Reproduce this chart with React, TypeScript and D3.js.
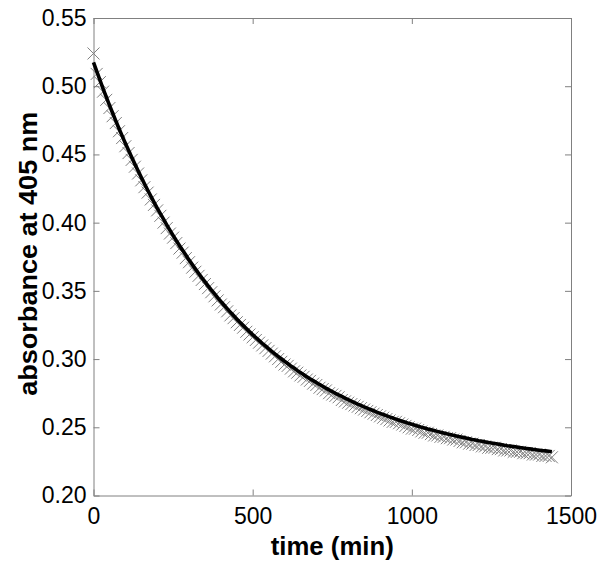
import { Component } from 'react';
import * as d3 from 'd3';

// sampling times (min)
const time_min = [
    0, 10, 20, 30, 40, 50, 60, 70, 80, 90, 100, 110, 120, 130, 140, 150, 160, 170, 180, 190,
    200, 210, 220, 230, 240, 250, 260, 270, 280, 290, 300, 310, 320, 330, 340, 350, 360, 370, 380, 390,
    400, 410, 420, 430, 440, 450, 460, 470, 480, 490, 500, 510, 520, 530, 540, 550, 560, 570, 580, 590,
    600, 610, 620, 630, 640, 650, 660, 670, 680, 690, 700, 710, 720, 730, 740, 750, 760, 770, 780, 790,
    800, 810, 820, 830, 840, 850, 860, 870, 880, 890, 900, 910, 920, 930, 940, 950, 960, 970, 980, 990,
    1000, 1010, 1020, 1030, 1040, 1050, 1060, 1070, 1080, 1090, 1100, 1110, 1120, 1130, 1140, 1150, 1160, 1170, 1180, 1190,
    1200, 1210, 1220, 1230, 1240, 1250, 1260, 1270, 1280, 1290, 1300, 1310, 1320, 1330, 1340, 1350, 1360, 1370, 1380, 1390,
    1400, 1410, 1420, 1430, 1440
];

// measured absorbance (x markers)
const absorbance = [
    0.524, 0.509, 0.503, 0.496, 0.490, 0.484, 0.478, 0.473, 0.467, 0.462, 0.456, 0.451, 0.446, 0.441, 0.436, 0.431, 0.426, 0.422, 0.417, 0.413,
    0.409, 0.405, 0.400, 0.396, 0.392, 0.389, 0.385, 0.381, 0.378, 0.374, 0.371, 0.367, 0.364, 0.361, 0.358, 0.355, 0.352, 0.349, 0.346, 0.343,
    0.340, 0.338, 0.335, 0.332, 0.330, 0.327, 0.325, 0.323, 0.320, 0.318, 0.316, 0.314, 0.312, 0.310, 0.308, 0.306, 0.304, 0.302, 0.300, 0.298,
    0.296, 0.295, 0.293, 0.291, 0.290, 0.288, 0.287, 0.285, 0.284, 0.282, 0.281, 0.279, 0.278, 0.277, 0.275, 0.274, 0.273, 0.272, 0.270, 0.269,
    0.268, 0.267, 0.266, 0.265, 0.264, 0.263, 0.262, 0.261, 0.260, 0.259, 0.258, 0.257, 0.256, 0.255, 0.254, 0.254, 0.253, 0.252, 0.251, 0.250,
    0.249, 0.249, 0.248, 0.247, 0.246, 0.246, 0.245, 0.244, 0.244, 0.243, 0.243, 0.242, 0.242, 0.241, 0.241, 0.240, 0.239, 0.239, 0.238, 0.238,
    0.237, 0.237, 0.236, 0.236, 0.235, 0.235, 0.235, 0.234, 0.234, 0.233, 0.233, 0.233, 0.232, 0.232, 0.232, 0.231, 0.231, 0.231, 0.230, 0.230,
    0.230, 0.229, 0.229, 0.229, 0.228
];

// fitted curve (thick black line)
const fit_absorbance = [
    0.5175, 0.5110, 0.5046, 0.4983, 0.4922, 0.4862, 0.4804, 0.4746, 0.4690, 0.4636, 0.4582, 0.4530, 0.4479, 0.4429, 0.4380, 0.4332, 0.4285, 0.4239, 0.4194, 0.4150,
    0.4107, 0.4066, 0.4025, 0.3984, 0.3945, 0.3907, 0.3869, 0.3833, 0.3797, 0.3762, 0.3727, 0.3694, 0.3661, 0.3629, 0.3597, 0.3567, 0.3537, 0.3507, 0.3479, 0.3450,
    0.3423, 0.3396, 0.3370, 0.3344, 0.3319, 0.3294, 0.3270, 0.3247, 0.3224, 0.3201, 0.3179, 0.3158, 0.3137, 0.3116, 0.3096, 0.3076, 0.3057, 0.3038, 0.3020, 0.3002,
    0.2984, 0.2967, 0.2950, 0.2934, 0.2917, 0.2902, 0.2886, 0.2871, 0.2856, 0.2842, 0.2828, 0.2814, 0.2801, 0.2787, 0.2774, 0.2762, 0.2749, 0.2737, 0.2726, 0.2714,
    0.2703, 0.2692, 0.2681, 0.2670, 0.2660, 0.2650, 0.2640, 0.2630, 0.2621, 0.2611, 0.2602, 0.2594, 0.2585, 0.2576, 0.2568, 0.2560, 0.2552, 0.2544, 0.2537, 0.2529,
    0.2522, 0.2515, 0.2508, 0.2501, 0.2495, 0.2488, 0.2482, 0.2476, 0.2470, 0.2464, 0.2458, 0.2452, 0.2447, 0.2441, 0.2436, 0.2431, 0.2426, 0.2421, 0.2416, 0.2411,
    0.2407, 0.2402, 0.2398, 0.2393, 0.2389, 0.2385, 0.2381, 0.2377, 0.2373, 0.2369, 0.2365, 0.2362, 0.2358, 0.2355, 0.2351, 0.2348, 0.2345, 0.2342, 0.2338, 0.2335,
    0.2332, 0.2329, 0.2327, 0.2324, 0.2321
];

const x_ticks = [0, 500, 1000, 1500];
const y_ticks = [0.20, 0.25, 0.30, 0.35, 0.40, 0.45, 0.50, 0.55];

export default class App extends Component {

    svg_node: SVGSVGElement | null = null;

    componentDidMount() {
        this.renderChart();
    }

    renderChart() {
        const left = 93.5;
        const right = 571;
        const top = 18;
        const bottom = 495.5;
        const frame_color = "#808080";
        const font = "'Liberation Sans', Arial, sans-serif";

        let svg = d3.select(this.svg_node);
        svg.selectAll("*").remove();

        // scales
        const x_scale = d3.scaleLinear().domain([0, 1500]).range([left, right]);
        const y_scale = d3.scaleLinear().domain([0.20, 0.55]).range([bottom, top]);

        // axes, ticks pointing inward
        const styleAxis = (g: any, show_labels: boolean) => {
            g.selectAll(".domain").attr("stroke", frame_color);
            g.selectAll(".tick line").attr("stroke", frame_color);
            g.selectAll(".tick text")
                .attr("fill", show_labels ? "#000" : "none")
                .style("font-family", font)
                .style("font-size", "23px");
        };

        svg.append("g")
            .attr("transform", "translate(0," + bottom + ")")
            .call(d3.axisBottom(x_scale).tickValues(x_ticks).tickSizeInner(-6).tickSizeOuter(0).tickPadding(12).tickFormat(d3.format("d")))
            .call((g: any) => styleAxis(g, true));

        svg.append("g")
            .attr("transform", "translate(0," + top + ")")
            .call(d3.axisTop(x_scale).tickValues(x_ticks).tickSizeInner(-6).tickSizeOuter(0).tickFormat(() => ""))
            .call((g: any) => styleAxis(g, false));

        svg.append("g")
            .attr("transform", "translate(" + left + ",0)")
            .call(d3.axisLeft(y_scale).tickValues(y_ticks).tickSizeInner(-6).tickSizeOuter(0).tickPadding(7).tickFormat(d3.format(".2f")))
            .call((g: any) => styleAxis(g, true));

        svg.append("g")
            .attr("transform", "translate(" + right + ",0)")
            .call(d3.axisRight(y_scale).tickValues(y_ticks).tickSizeInner(-6).tickSizeOuter(0).tickFormat(() => ""))
            .call((g: any) => styleAxis(g, false));

        // axis titles
        svg.append("text")
            .attr("x", (left + right) / 2)
            .attr("y", 555)
            .attr("text-anchor", "middle")
            .attr("textLength", 123)
            .attr("lengthAdjust", "spacingAndGlyphs")
            .style("font-family", font)
            .style("font-size", "25px")
            .style("font-weight", "bold")
            .text("time (min)");

        svg.append("text")
            .attr("transform", "translate(37," + ((top + bottom) / 2 - 3) + ") rotate(-90)")
            .attr("text-anchor", "middle")
            .attr("textLength", 284)
            .attr("lengthAdjust", "spacingAndGlyphs")
            .style("font-family", font)
            .style("font-size", "25px")
            .style("font-weight", "bold")
            .text("absorbance at 405 nm");

        // data markers
        const points = time_min.map((t, i) => ({ t: t, a: absorbance[i] }));
        const s = 6;
        svg.append("g")
            .selectAll("path")
            .data(points).enter()
            .append("path")
            .attr("transform", (d) => "translate(" + x_scale(d.t) + "," + y_scale(d.a) + ")")
            .attr("d", "M" + (-s) + "," + (-s) + "L" + s + "," + s + "M" + (-s) + "," + s + "L" + s + "," + (-s))
            .attr("fill", "none")
            .attr("stroke", "#7f7f7f")
            .attr("stroke-width", 1);

        // fit line
        const line = d3.line<number>()
            .x((d, i) => x_scale(time_min[i]))
            .y((d) => y_scale(d));
        svg.append("path")
            .datum(fit_absorbance)
            .attr("d", line)
            .attr("fill", "none")
            .attr("stroke", "#000")
            .attr("stroke-width", 3.6)
            .attr("stroke-linejoin", "round");
    }

    render() {
        return (
            <svg
                ref={(el) => { this.svg_node = el; }}
                width={604}
                height={572}
                style={{ position: "absolute", left: 0, top: 0, background: "#fff" }}
            />
        );
    }
}
